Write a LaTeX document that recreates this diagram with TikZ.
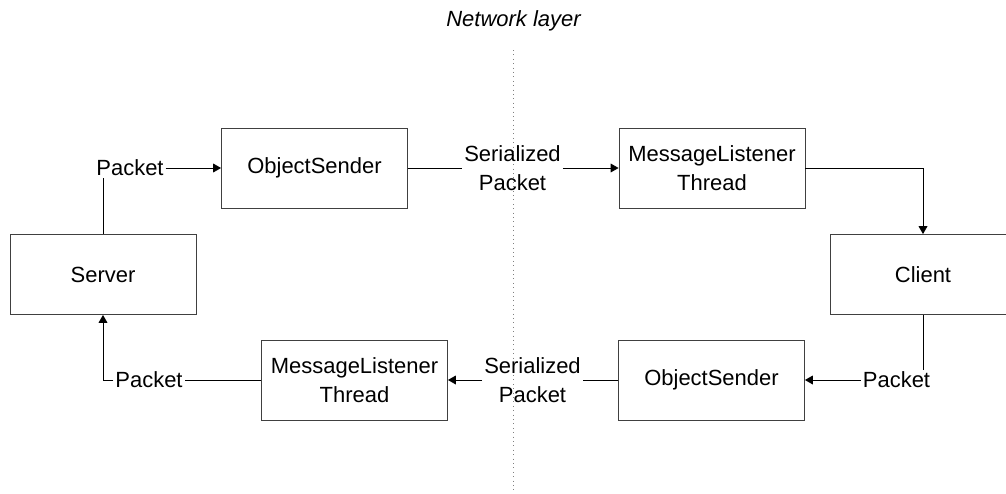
\documentclass[tikz,border=0pt]{standalone}
\usepackage{fontspec}
\setmainfont{Liberation Sans}
\usetikzlibrary{arrows.meta}
\begin{document}
\begin{tikzpicture}[
  box/.style={draw=black!75, line width=0.5pt, minimum width=3.72cm, minimum height=1.6cm, align=center},
  lbl/.style={inner sep=1pt, align=center},
  conn/.style={line width=0.45pt},
  arr/.style={conn, -{Triangle[length=4.5pt,width=5pt]}},
  font=\fontsize{12.5}{16.5}\selectfont]
  \useasboundingbox (0,0) rectangle (20.12,9.86);
  \clip (0,0) rectangle (20.12,9.86);
  % network split
  \draw[gray, dotted, line width=0.5pt] (10.26,8.86) -- (10.26,0);
  \node[font=\fontsize{12.5}{15}\selectfont\itshape] (net) at (10.27,9.44) {Network layer};
  % boxes
  \node[box] (srv)  at (2.06,4.37)  {Server};
  \node[box] (obj1) at (6.29,6.50)  {ObjectSender};
  \node[box] (mlt1) at (14.24,6.50) {MessageListener\\Thread};
  \node[box] (cli)  at (18.46,4.37) {Client};
  \node[box] (obj2) at (14.23,2.26) {ObjectSender};
  \node[box] (mlt2) at (7.09,2.26)  {MessageListener\\Thread};
  % labels
  \node[lbl] (pkA)  at (2.60,6.50)  {Packet};
  \node[lbl] (serA) at (10.25,6.50) {Serialized\\Packet};
  \node[lbl] (pkD)  at (17.93,2.26) {Packet};
  \node[lbl] (serB) at (10.65,2.26) {Serialized\\Packet};
  \node[lbl] (pkC)  at (2.98,2.26)  {Packet};
  % connectors
  \draw[conn] (srv.north) -- (srv.north |- pkA.south);
  \draw[arr] (pkA) -- (obj1);
  \draw[conn] (obj1) -- (serA);
  \draw[arr] (serA) -- (mlt1);
  \draw[arr] (mlt1.east) -| (cli.north);
  \draw[conn] (cli.south) -- (cli.south |- pkD.north);
  \draw[arr] (pkD) -- (obj2);
  \draw[conn] (obj2) -- (serB);
  \draw[arr] (serB) -- (mlt2);
  \draw[conn] (mlt2) -- (pkC);
  \draw[arr] (pkC.west) -| (srv.south);
\end{tikzpicture}
\end{document}
